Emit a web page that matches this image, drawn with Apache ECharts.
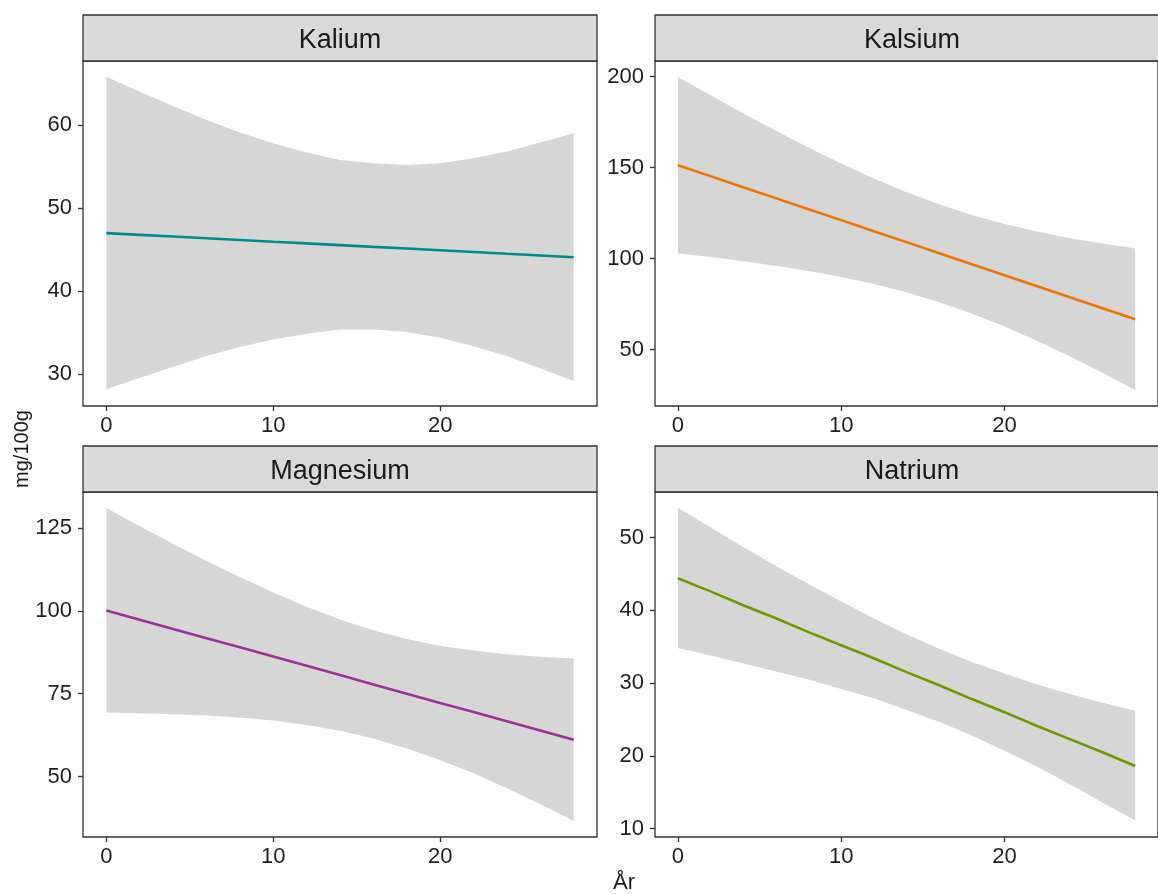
<!DOCTYPE html>
<html><head><meta charset="utf-8">
<script src="https://cdn.jsdelivr.net/npm/echarts@6/dist/echarts.min.js"></script>
<style>html,body{margin:0;padding:0;background:#fff}#c{width:1158px;height:894px}</style>
</head><body><div id="c"></div>
<script>
// ---- data ----
const years = [0, 2, 4, 6, 8, 10, 12, 14, 16, 18, 20, 22, 24, 26, 28];
const xTicks = [0, 10, 20];

const kaliumFit   = [47.00, 46.79, 46.59, 46.38, 46.17, 45.96, 45.76, 45.55, 45.34, 45.14, 44.93, 44.72, 44.51, 44.31, 44.10];
const kaliumLower = [28.2, 29.6, 30.9, 32.2, 33.3, 34.2, 34.9, 35.4, 35.4, 35.1, 34.4, 33.4, 32.2, 30.7, 29.2];
const kaliumUpper = [65.8, 64.0, 62.3, 60.6, 59.1, 57.8, 56.7, 55.8, 55.4, 55.2, 55.4, 56.0, 56.8, 57.9, 59.0];
const kaliumTicks = [30, 40, 50, 60];

const kalsiumFit   = [151.3, 145.3, 139.2, 133.2, 127.1, 121.1, 115.0, 109.0, 102.9, 96.9, 90.8, 84.8, 78.7, 72.7, 66.6];
const kalsiumLower = [102.8, 100.8, 98.5, 96.0, 93.1, 89.9, 86.0, 81.4, 76.0, 69.8, 62.6, 54.7, 46.2, 37.2, 27.7];
const kalsiumUpper = [199.8, 189.7, 179.9, 170.3, 161.1, 152.2, 144.0, 136.5, 129.8, 123.9, 119.0, 114.8, 111.2, 108.2, 105.5];
const kalsiumTicks = [50, 100, 150, 200];

const magnesiumFit   = [100.1, 97.3, 94.5, 91.7, 89.0, 86.2, 83.4, 80.6, 77.8, 75.0, 72.2, 69.5, 66.7, 63.9, 61.1];
const magnesiumLower = [69.3, 69.1, 68.8, 68.4, 67.8, 66.9, 65.6, 63.8, 61.5, 58.5, 55.0, 51.0, 46.5, 41.7, 36.6];
const magnesiumUpper = [131.0, 125.5, 120.2, 115.0, 110.2, 105.5, 101.2, 97.4, 94.1, 91.5, 89.4, 88.0, 86.9, 86.1, 85.6];
const magnesiumTicks = [50, 75, 100, 125];

const natriumFit   = [44.4, 42.6, 40.7, 38.9, 37.0, 35.2, 33.4, 31.5, 29.7, 27.8, 26.0, 24.1, 22.3, 20.5, 18.6];
const natriumLower = [34.8, 33.8, 32.7, 31.6, 30.5, 29.2, 27.9, 26.3, 24.7, 22.8, 20.7, 18.5, 16.1, 13.6, 11.1];
const natriumUpper = [54.1, 51.4, 48.7, 46.1, 43.6, 41.2, 38.9, 36.7, 34.7, 32.9, 31.3, 29.8, 28.5, 27.3, 26.2];
const natriumTicks = [10, 20, 30, 40, 50];

const xTitle = 'År';
const yTitle = 'mg/100g';

// ---- layout / style ----
const FONT = '"Liberation Sans", Arial, sans-serif';
const PW = 514, PH = 345, STRIP = 46;
const panels = [
  {name: 'Kalium', fit: kaliumFit, lower: kaliumLower, upper: kaliumUpper, ticks: kaliumTicks, color: '#008B8B', yMin: 26.2, yMax: 67.7, left: 83, top: 61},
  {name: 'Kalsium', fit: kalsiumFit, lower: kalsiumLower, upper: kalsiumUpper, ticks: kalsiumTicks, color: '#EE7600', yMin: 18.9, yMax: 208.6, left: 655, top: 61},
  {name: 'Magnesium', fit: magnesiumFit, lower: magnesiumLower, upper: magnesiumUpper, ticks: magnesiumTicks, color: '#9A329A', yMin: 31.8, yMax: 135.8, left: 83, top: 492},
  {name: 'Natrium', fit: natriumFit, lower: natriumLower, upper: natriumUpper, ticks: natriumTicks, color: '#6E9A00', yMin: 8.85, yMax: 56.25, left: 655, top: 492}
];

const grids = [], xAxes = [], yAxes = [], series = [], graphics = [];
panels.forEach((p, i) => {
  grids.push({left: p.left, top: p.top, width: PW, height: PH, show: true,
    borderColor: '#333333', borderWidth: 1.3, backgroundColor: 'transparent'});
  xAxes.push({type: 'value', gridIndex: i, min: -1.4, max: 29.4,
    splitLine: {show: false}, axisLine: {show: false, onZero: false},
    axisTick: {show: true, length: 5, customValues: xTicks, lineStyle: {color: '#333333', width: 1.3}},
    axisLabel: {customValues: xTicks, fontSize: 22, color: '#1F1F1F', margin: 9, fontFamily: FONT}});
  yAxes.push({type: 'value', gridIndex: i, min: p.yMin, max: p.yMax,
    splitLine: {show: false}, axisLine: {show: false, onZero: false},
    axisTick: {show: true, length: 5, customValues: p.ticks, lineStyle: {color: '#333333', width: 1.3}},
    axisLabel: {customValues: p.ticks, fontSize: 22, color: '#1F1F1F', margin: 11, fontFamily: FONT}});
  series.push({
    type: 'custom', xAxisIndex: i, yAxisIndex: i, silent: true, z: 1,
    encode: {x: 0, y: [1, 2]},
    data: years.map((x, j) => [x, p.lower[j], p.upper[j]]),
    renderItem: (params, api) => {
      if (params.dataIndex !== 0) return;
      const pts = [];
      for (let j = 0; j < years.length; j++) pts.push(api.coord([years[j], p.upper[j]]));
      for (let j = years.length - 1; j >= 0; j--) pts.push(api.coord([years[j], p.lower[j]]));
      return {type: 'polygon', shape: {points: pts}, style: {fill: '#D6D6D6'}};
    }
  });
  series.push({type: 'line', xAxisIndex: i, yAxisIndex: i, z: 3,
    data: years.map((x, j) => [x, p.fit[j]]),
    showSymbol: false, symbol: 'none',
    lineStyle: {color: p.color, width: 2.6}, itemStyle: {color: p.color}});
  graphics.push({type: 'rect', z: 10, shape: {x: p.left, y: p.top - STRIP, width: PW, height: STRIP},
    style: {fill: '#D9D9D9', stroke: '#333333', lineWidth: 1.3}});
  graphics.push({type: 'text', z: 11, x: p.left + PW / 2, y: p.top - STRIP / 2 + 3,
    style: {text: p.name, font: '27px ' + FONT, fill: '#1A1A1A', textAlign: 'center', textVerticalAlign: 'middle'}});
});
graphics.push({type: 'text', z: 11, x: 22, y: 449, rotation: Math.PI / 2,
  style: {text: yTitle, font: '20px ' + FONT, fill: '#1A1A1A', textAlign: 'center', textVerticalAlign: 'middle'}});
graphics.push({type: 'text', z: 11, x: 624, y: 883,
  style: {text: xTitle, font: '22px ' + FONT, fill: '#1A1A1A', textAlign: 'center', textVerticalAlign: 'middle'}});

const chart = echarts.init(document.getElementById('c'), null, {renderer: 'canvas'});
chart.setOption({
  animation: false,
  backgroundColor: '#FFFFFF',
  grid: grids, xAxis: xAxes, yAxis: yAxes, series: series, graphic: graphics
});
</script>
</body></html>
